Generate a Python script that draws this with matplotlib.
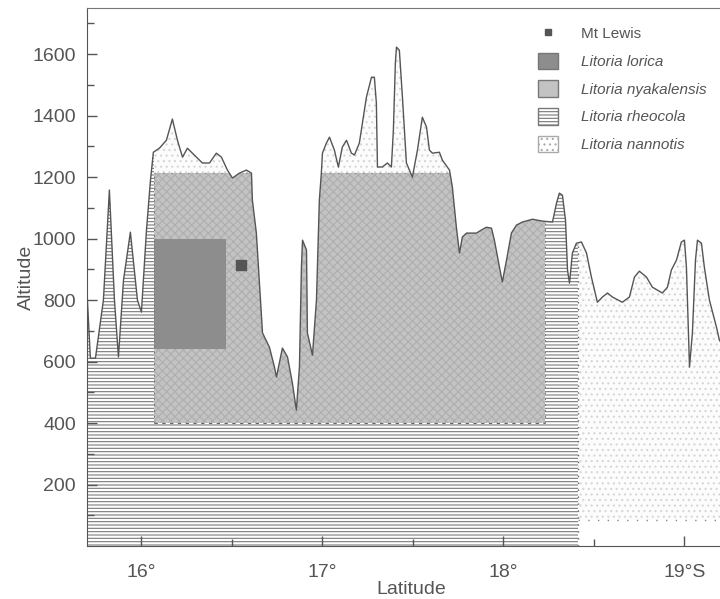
import numpy as np
import matplotlib
matplotlib.use("Agg")
import matplotlib.pyplot as plt
from matplotlib.patches import Polygon, Patch
from matplotlib.lines import Line2D

plt.rcParams['font.family'] = ['Liberation Sans', 'DejaVu Sans']
plt.rcParams['hatch.linewidth'] = 0.8

# terrain profile along the range (latitude south, altitude m)
lat = [15.696, 15.718, 15.746, 15.790, 15.823, 15.851, 15.873, 15.901, 15.939, 15.978,
       16.000, 16.028, 16.050, 16.066, 16.099, 16.138, 16.171, 16.199, 16.227, 16.254,
       16.304, 16.337, 16.376, 16.414, 16.442, 16.475, 16.503, 16.541, 16.580, 16.608,
       16.613, 16.635, 16.652, 16.669, 16.707, 16.735, 16.746, 16.779, 16.807, 16.834,
       16.856, 16.873, 16.884, 16.890, 16.912, 16.917, 16.945, 16.967, 16.983, 16.994,
       17.000, 17.022, 17.039, 17.066, 17.088, 17.110, 17.133, 17.160, 17.177, 17.204,
       17.243, 17.271, 17.287, 17.298, 17.304, 17.331, 17.359, 17.381, 17.392, 17.403,
       17.409, 17.425, 17.442, 17.464, 17.497, 17.525, 17.552, 17.575, 17.591, 17.608,
       17.646, 17.663, 17.702, 17.718, 17.740, 17.757, 17.773, 17.796, 17.851, 17.878,
       17.906, 17.934, 17.950, 17.978, 17.994, 18.017, 18.044, 18.072, 18.105, 18.160,
       18.215, 18.271, 18.293, 18.309, 18.326, 18.343, 18.354, 18.365, 18.381, 18.403,
       18.431, 18.459, 18.486, 18.519, 18.547, 18.575, 18.602, 18.657, 18.696, 18.724,
       18.751, 18.790, 18.823, 18.878, 18.906, 18.928, 18.956, 18.983, 19.000, 19.011,
       19.028, 19.044, 19.061, 19.072, 19.094, 19.110, 19.138, 19.177, 19.193, 19.300]
alt = [865, 611, 611, 800, 1158, 800, 615, 865, 1021, 800,
       761, 1028, 1190, 1281, 1294, 1320, 1389, 1320, 1265, 1294,
       1265, 1246, 1246, 1278, 1265, 1223, 1197, 1213, 1223, 1213,
       1125, 1018, 855, 693, 647, 582, 550, 644, 615, 530,
       442, 582, 907, 995, 963, 693, 621, 800, 1125, 1213,
       1278, 1311, 1330, 1288, 1233, 1298, 1320, 1278, 1272, 1311,
       1460, 1525, 1525, 1441, 1233, 1233, 1246, 1233, 1353, 1571,
       1623, 1613, 1460, 1246, 1200, 1288, 1395, 1363, 1288, 1278,
       1281, 1255, 1223, 1167, 1037, 953, 1005, 1018, 1018, 1028,
       1037, 1034, 995, 907, 859, 930, 1018, 1044, 1054, 1063,
       1057, 1054, 1115, 1148, 1141, 1060, 898, 855, 953, 985,
       989, 953, 875, 793, 810, 823, 810, 793, 810, 875,
       894, 875, 842, 823, 842, 898, 930, 989, 995, 907,
       582, 693, 930, 995, 985, 907, 800, 712, 670, 580]

# species ranges (latitude span, altitude span)
lorica_lat = [16.07, 16.47]
lorica_alt = [640, 1000]
nyak_lat = [16.07, 18.23]
nyak_alt = [400, 1215]
rheo_lat = [15.69, 18.41]
rheo_alt = [0, 1800]
nann_lat = [15.69, 19.30]
nann_alt = [85, 1800]
mt_lewis = (16.55, 915)

labels = ['Mt Lewis', 'Litoria lorica', 'Litoria nyakalensis',
          'Litoria rheocola', 'Litoria nannotis']
xtick_vals = [16, 17, 18, 19]
xtick_labels = ['16°', '17°', '18°', '19°S']

txt = '#555555'
fig = plt.figure(figsize=(7.2, 5.99), dpi=100)
ax = fig.add_axes([0.121, 0.0885, 0.90, 0.898])

# area under the profile, used to clip the range fills
terrain = Polygon(list(zip([lat[0]] + lat + [lat[-1]], [0] + alt + [0])),
                  closed=True, facecolor='none', edgecolor='none')
ax.add_patch(terrain)

# nannotis: stipple from its lower limit up to the ridge
f = ax.fill_between(nann_lat, nann_alt[0], nann_alt[1], facecolor='#fcfcfc',
                    edgecolor='#d6d6d6', hatch='...', linewidth=0)
f.set_clip_path(terrain)

# rheocola: lowlands, but not above the nyakalensis band
rx = [rheo_lat[0], nyak_lat[0], nyak_lat[0], nyak_lat[1], nyak_lat[1], rheo_lat[1]]
ry = [rheo_alt[1], rheo_alt[1], nyak_alt[0], nyak_alt[0], rheo_alt[1], rheo_alt[1]]
f = ax.fill_between(rx, rheo_alt[0], ry, facecolor='white', edgecolor='#7a7a7a',
                    hatch='-----', linewidth=0)
f.set_clip_path(terrain)

# nyakalensis band
f = ax.fill_between(nyak_lat, nyak_alt[0], nyak_alt[1], facecolor='#c3c3c3',
                    edgecolor='#aeaeae', hatch='xxxx', linewidth=0)
f.set_clip_path(terrain)

# lorica block
ax.fill_between(lorica_lat, lorica_alt[0], lorica_alt[1], facecolor='#8d8d8d',
                edgecolor='none', linewidth=0)

# range borders
ax.plot(nyak_lat, [nyak_alt[0]] * 2, color='#666666', lw=0.8, ls=(0, (3, 4)))
l, = ax.plot(nyak_lat, [nyak_alt[1]] * 2, color='#888888', lw=1.0, ls=(0, (1, 5)))
l.set_clip_path(terrain)
for x0 in nyak_lat:
    l, = ax.plot([x0, x0], nyak_alt, color='#777777', lw=0.7, ls=(0, (2, 4)))
    l.set_clip_path(terrain)
l, = ax.plot([rheo_lat[1]] * 2, [rheo_alt[0], rheo_alt[1]], color='#666666',
             lw=1.0, ls=(0, (1, 4)))
l.set_clip_path(terrain)
ax.plot([rheo_lat[1], nann_lat[1]], [nann_alt[0]] * 2, color='#888888', lw=1.0,
        ls=(0, (1, 6)))

# ridge profile
ax.plot(lat, alt, color='#555555', lw=1.0)
ax.plot(*mt_lewis, marker='s', ms=7, color='#555555', ls='none')

ax.set_xlim(15.70, 19.28)
ax.set_ylim(0, 1750)
ax.set_xticks(xtick_vals)
ax.set_xticklabels(xtick_labels)
ax.set_xticks([16.5, 17.5, 18.5], minor=True)
ax.set_yticks(range(200, 1601, 200))
ax.set_yticks(range(100, 1701, 200), minor=True)
ax.tick_params(which='both', direction='in', colors='#555555', labelcolor=txt,
               labelsize=14)
ax.tick_params(which='major', length=7, width=1)
ax.tick_params(which='minor', length=5, width=1)
ax.tick_params(axis='y', pad=8)
ax.tick_params(axis='x', pad=13)
for s in ['left', 'bottom']:
    ax.spines[s].set_color('#555555')
ax.spines['top'].set_color('#777777')
ax.spines['right'].set_visible(False)

ax.set_xlabel('Latitude', fontsize=14, color=txt, labelpad=0)
ax.set_ylabel('Altitude', fontsize=14, color=txt, labelpad=-2)

handles = [Line2D([], [], marker='s', ms=5, color='#555555', ls='none'),
           Patch(facecolor='#8d8d8d', edgecolor='#777777'),
           Patch(facecolor='#c3c3c3', edgecolor='#777777'),
           Patch(facecolor='white', edgecolor='#777777', hatch='-----'),
           Patch(facecolor='white', edgecolor='#aaaaaa', hatch='...')]
leg = ax.legend(handles, labels, loc='upper left', bbox_to_anchor=(538 / 720, 1 - 25 / 599),
                bbox_transform=fig.transFigure, frameon=False, fontsize=11,
                handlelength=1.3, handleheight=1.3, handletextpad=1.5,
                labelspacing=0.72, borderpad=0, borderaxespad=0)
for i, t in enumerate(leg.get_texts()):
    t.set_color(txt)
    if i > 0:
        t.set_style('italic')

plt.savefig('out.png', dpi=100)
